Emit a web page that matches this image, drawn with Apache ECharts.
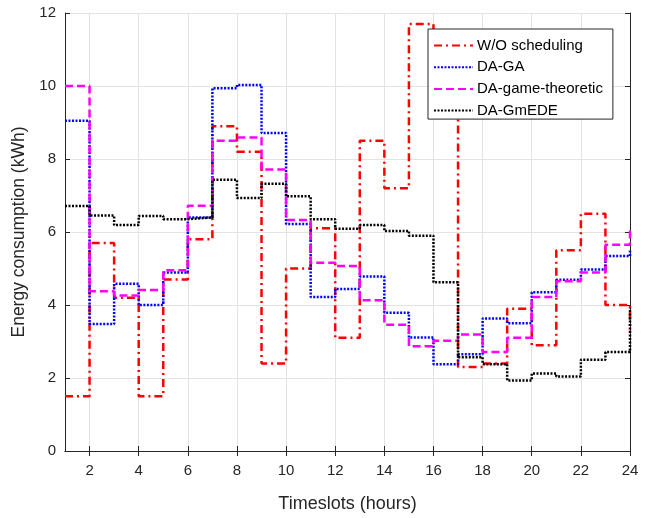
<!DOCTYPE html>
<html>
<head>
<meta charset="utf-8">
<script src="https://cdn.jsdelivr.net/npm/echarts@6/dist/echarts.min.js"></script>
<style>
  html, body { margin: 0; padding: 0; background: #fff; }
  #main { width: 651px; height: 518px; }
</style>
</head>
<body>
<div id="main"></div>
<script>
var timeslots = [1, 2, 3, 4, 5, 6, 7, 8, 9, 10, 11, 12, 13, 14, 15, 16, 17, 18, 19, 20, 21, 22, 23, 24];
var xTicks = [2, 4, 6, 8, 10, 12, 14, 16, 18, 20, 22, 24];
var woScheduling = [1.5, 5.7, 4.2, 1.5, 4.7, 5.8, 8.9, 8.2, 2.4, 5.0, 6.1, 3.1, 8.5, 7.2, 11.7, 9.5, 2.3, 2.4, 3.9, 2.9, 5.5, 6.5, 4.0, 3.3];
var daGA = [9.05, 3.48, 4.58, 4.0, 4.89, 6.4, 9.94, 10.03, 8.71, 6.22, 4.22, 4.44, 4.78, 3.79, 3.11, 2.38, 2.65, 3.63, 3.5, 4.35, 4.69, 4.97, 5.34, 5.52];
var daGame = [10.0, 4.38, 4.26, 4.41, 4.95, 6.72, 8.5, 8.59, 7.71, 6.33, 5.16, 5.07, 4.13, 3.46, 2.87, 3.02, 3.19, 2.71, 3.1, 4.22, 4.65, 4.89, 5.65, 6.11];
var daGmEDE = [6.71, 6.45, 6.19, 6.44, 6.35, 6.4, 7.43, 6.93, 7.32, 6.98, 6.35, 6.09, 6.19, 6.03, 5.9, 4.62, 2.57, 2.38, 1.93, 2.12, 2.04, 2.5, 2.71, 3.92];

function pairs(values) {
  return timeslots.map(function (t, i) { return [t, values[i]]; });
}

var axisColor = '#262626';
var fontFam = '"Liberation Sans", Arial, Helvetica, sans-serif';

function stairs(name, values, color, dash) {
  return {
    name: name,
    type: 'line',
    step: 'end',
    symbol: 'none',
    data: pairs(values),
    lineStyle: { color: color, width: 2.5, type: dash },
    itemStyle: { color: color },
    xAxisIndex: 0,
    yAxisIndex: 0
  };
}

var chart = echarts.init(document.getElementById('main'), null, { renderer: 'canvas' });
var option = {
  animation: false,
  textStyle: { fontFamily: fontFam },
  grid: { left: 65, right: 21, top: 13, bottom: 60, show: false },
  legend: {
    orient: 'vertical',
    left: 428,
    top: 29,
    padding: [9, 10, 1, 5],
    itemGap: 6.7,
    itemWidth: 39,
    itemHeight: 15,
    backgroundColor: '#fff',
    borderColor: axisColor,
    borderWidth: 1,
    itemStyle: { opacity: 0 },
    textStyle: { fontSize: 15, color: '#000', fontFamily: fontFam, padding: [0, 0, 0, -1] },
    data: ['W/O scheduling', 'DA-GA', 'DA-game-theoretic', 'DA-GmEDE']
  },
  xAxis: [
    {
      type: 'value',
      min: 1,
      max: 24,
      name: 'Timeslots (hours)',
      nameLocation: 'middle',
      nameGap: 44,
      nameTextStyle: { fontSize: 18, color: axisColor, fontFamily: fontFam },
      axisLine: { lineStyle: { color: axisColor, width: 1 } },
      axisTick: { inside: true, length: 5, customValues: xTicks, lineStyle: { color: axisColor } },
      axisLabel: { customValues: xTicks, fontSize: 15, color: axisColor, margin: 12, fontFamily: fontFam },
      splitLine: { show: true, lineStyle: { color: '#e3e3e3', width: 1 } }
    },
    {
      type: 'value',
      position: 'top',
      min: 1,
      max: 24,
      axisLine: { lineStyle: { color: axisColor, width: 1 } },
      axisTick: { inside: true, length: 5, customValues: xTicks, lineStyle: { color: axisColor } },
      axisLabel: { show: false },
      splitLine: { show: false }
    }
  ],
  yAxis: [
    {
      type: 'value',
      min: 0,
      max: 12,
      interval: 2,
      name: 'Energy consumption (kWh)',
      nameLocation: 'middle',
      nameGap: 27,
      nameTextStyle: { fontSize: 17.5, color: axisColor, fontFamily: fontFam },
      axisLine: { show: true, lineStyle: { color: axisColor, width: 1 } },
      axisTick: { show: true, inside: true, length: 5, lineStyle: { color: axisColor } },
      axisLabel: { fontSize: 15, color: axisColor, margin: 9, fontFamily: fontFam },
      splitLine: { show: true, lineStyle: { color: '#e3e3e3', width: 1 } }
    },
    {
      type: 'value',
      position: 'right',
      min: 0,
      max: 12,
      interval: 2,
      axisLine: { show: true, lineStyle: { color: axisColor, width: 1 } },
      axisTick: { show: true, inside: true, length: 5, lineStyle: { color: axisColor } },
      axisLabel: { show: false },
      splitLine: { show: false }
    }
  ],
  series: [
    stairs('W/O scheduling', woScheduling, '#ff0000', [8, 4, 2, 4]),
    stairs('DA-GA', daGA, '#0000ff', [2, 1.5]),
    stairs('DA-game-theoretic', daGame, '#ff00ff', [8, 4]),
    stairs('DA-GmEDE', daGmEDE, '#000000', [2, 1.5])
  ]
};
chart.setOption(option);
</script>
</body>
</html>
